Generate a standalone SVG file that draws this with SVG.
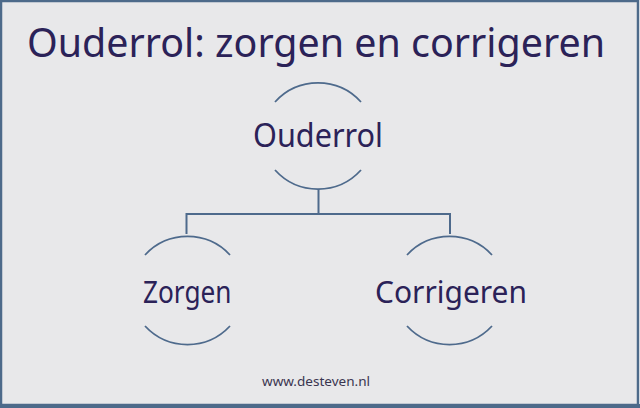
<svg xmlns="http://www.w3.org/2000/svg" width="640" height="408" viewBox="0 0 640 408">
<style>
.t{font-family:"Noto Sans","Open Sans","DejaVu Sans",sans-serif;fill:#2b2258}
.arc{fill:none;stroke:#4e6a8c;stroke-width:1.8}
.conn{fill:none;stroke:#4e6a8c;stroke-width:2}
</style>
<rect x="1" y="1" width="637" height="404" fill="#e8e8ea" stroke="#4d6a8a" stroke-width="2.5"/>
<rect x="0" y="404" width="640" height="4" fill="#4d6a8a"/>
<text class="t" x="27" y="57" font-size="40" textLength="578" lengthAdjust="spacingAndGlyphs">Ouderrol: zorgen en corrigeren</text>
<g id="connectors">
<path class="conn" d="M318.5,189 V214 M186.5,214 H450 M186.5,213 V234 M450,213 V234"/>
</g>
<g id="ouderrol">
<path class="arc" d="M275,102 A58,58 0 0 1 361,102"/>
<path class="arc" d="M275,170 A58,58 0 0 0 361,170"/>
<text class="t" x="253" y="146.5" font-size="32" textLength="130" lengthAdjust="spacingAndGlyphs">Ouderrol</text>
</g>
<g id="zorgen">
<path class="arc" d="M145,255 A58,58 0 0 1 230,255"/>
<path class="arc" d="M145,326 A58,58 0 0 0 230,326"/>
<text class="t" x="143" y="303" font-size="30" textLength="88.5" lengthAdjust="spacingAndGlyphs">Zorgen</text>
</g>
<g id="corrigeren">
<path class="arc" d="M407,255 A58,58 0 0 1 492,255"/>
<path class="arc" d="M407,326 A58,58 0 0 0 492,326"/>
<text class="t" x="375" y="303" font-size="30" textLength="152" lengthAdjust="spacingAndGlyphs">Corrigeren</text>
</g>
<text x="262" y="386" font-family="Noto Sans, DejaVu Sans, sans-serif" font-size="13" fill="#3a3550" textLength="108" lengthAdjust="spacingAndGlyphs">www.desteven.nl</text>
</svg>
